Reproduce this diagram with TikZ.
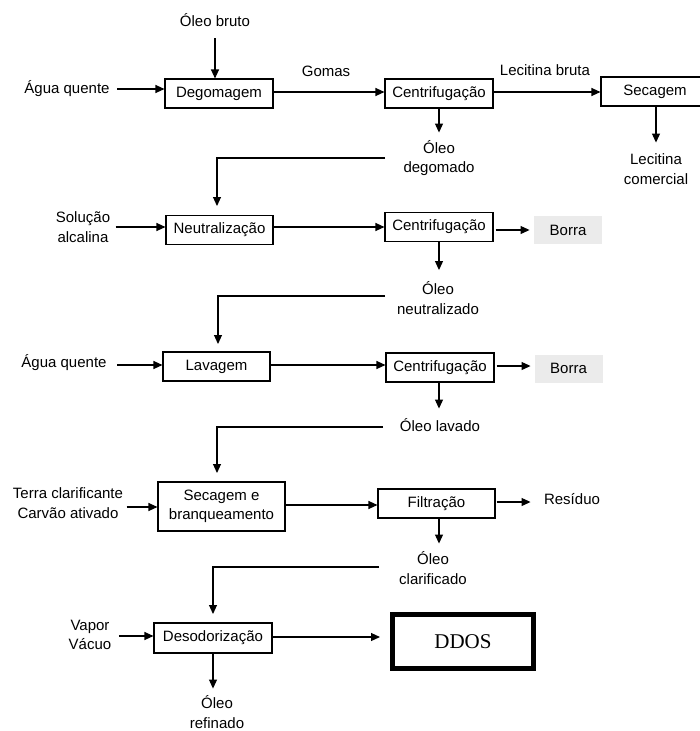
\documentclass[tikz,border=0pt]{standalone}
\usepackage{fontspec}
\setmainfont{Liberation Sans}
\usepackage{xcolor}
\usetikzlibrary{arrows.meta, positioning, calc}
\definecolor{borragray}{HTML}{EBEBEB}

\begin{document}
\begin{tikzpicture}[x=1pt, y=-1pt, line width=1.1pt,
    every node/.style={font=\fontsize{15}{19.5}\selectfont, inner sep=1pt},
    etapa/.style={draw, rectangle, minimum height=29pt, inner sep=2pt},
    saida/.style={fill=borragray, minimum width=68pt, minimum height=28pt},
    rotulo/.style={align=center},
    fluxo/.style={-{Triangle[length=9pt, width=8pt]}},
    retorno/.style={fluxo, shorten >=9pt}]
    \useasboundingbox (0,0) rectangle (700,731);

    % degomagem
    \node[rotulo] (oleobruto) at (215,20) {Óleo bruto};
    \node[etapa, minimum width=108pt] (degom) at (219,93.5) {Degomagem};
    \node[rotulo] (agua1) at (67,89) {Água quente};
    \node[etapa, minimum width=108pt] (centr1) at (439,93.5) {Centrifugação};
    \node[rotulo] (gomas) at (326,71) {Gomas};
    \node[rotulo] (lecbruta) at (545,70) {Lecitina bruta};
    \node[etapa, minimum width=108pt] (secag) at (655,91.5) {Secagem};
    \node[rotulo] (leccom) at (656,169) {Lecitina\\comercial};
    \node[rotulo] (oleodeg) at (439,158) {Óleo\\degomado};

    \draw[fluxo] (oleobruto.south) ++(0,10) -- (oleobruto |- degom.north);
    \draw[fluxo] (agua1.east) ++(6,0) -- (degom.west |- agua1);
    \draw[fluxo] ($(degom.east)+(0,-1.5)$) -- ($(centr1.west)+(0,-1.5)$);
    \draw[fluxo] ($(centr1.east)+(0,-1.5)$) -- (secag.west |- 0,92);
    \draw[fluxo] (secag.south -| leccom) -- ++(0,36);
    \draw[fluxo] (centr1.south) -- ++(0,24);

    % neutralizacao
    \node[etapa, minimum width=107pt] (neutr) at (219.5,230) {Neutralização};
    \node[rotulo] (solucao) at (83,227) {Solução\\alcalina};
    \node[etapa, minimum width=108pt] (centr2) at (439,227) {Centrifugação};
    \node[saida] (borra1) at (568,230) {Borra};
    \node[rotulo] (oleoneu) at (438,298) {Óleo\\neutralizado};

    \draw[retorno] (385,158) -| (217,215);
    \draw[fluxo] (solucao.east) ++(4,0) -- (neutr.west |- 0,227);
    \draw[fluxo] (neutr.east |- 0,227) -- (centr2.west);
    \draw[fluxo] (centr2.east |- 0,230) ++(2,0) -- ++(34,0);
    \draw[fluxo] (centr2.south) -- ++(0,28);

    % lavagem
    \node[etapa, minimum width=107pt] (lavag) at (216.5,366.5) {Lavagem};
    \node[rotulo] (agua2) at (64,363) {Água quente};
    \node[etapa, minimum width=108pt] (centr3) at (440,367.5) {Centrifugação};
    \node[saida] (borra2) at (568.5,368.5) {Borra};
    \node[rotulo] (oleolav) at (440,425) {Óleo lavado};

    \draw[retorno] (385,296) -| (218,353);
    \draw[fluxo] (agua2.east |- 0,365) ++(9,0) -- (lavag.west |- 0,365);
    \draw[fluxo] (lavag.east |- 0,365) -- (centr3.west |- 0,365);
    \draw[fluxo] (centr3.east |- 0,366) ++(2,0) -- ++(34,0);
    \draw[fluxo] (centr3.south -| 439,0) -- ++(0,26);

    % secagem e branqueamento
    \node[etapa, align=center, minimum width=127pt, minimum height=49pt,
        inner sep=1pt] (secbr) at (221.5,506.5) {Secagem e\\branqueamento};
    \node[rotulo] (terra) at (68,503) {Terra clarificante\\Carvão ativado};
    \node[etapa, minimum width=117pt] (filtr) at (436.5,503.5) {Filtração};
    \node[rotulo] (residuo) at (572,499) {Resíduo};
    \node[rotulo] (oleocla) at (433,568) {Óleo\\clarificado};

    \draw[retorno] (383,427) -| (217,482);
    \draw[fluxo] (terra.east |- 0,507) ++(2,0) -- (secbr.west |- 0,507);
    \draw[fluxo] (secbr.east |- 0,505) -- (filtr.west |- 0,505);
    \draw[fluxo] (filtr.east |- 0,502) ++(1,0) -- ++(34,0);
    \draw[fluxo] (filtr.south -| 439,0) -- ++(0,25);

    % desodorizacao
    \node[etapa, minimum width=118pt, minimum height=30pt] (desod) at (213,638) {Desodorização};
    \node[rotulo] (vapor) at (90,635) {Vapor\\Vácuo};
    \node[draw, line width=5pt, minimum width=141pt, minimum height=54pt,
        font=\fontsize{21}{25}\selectfont\setmainfont{Liberation Serif}]
        (ddos) at (463,641.5) {DDOS};
    \node[rotulo] (oleoref) at (217,712) {Óleo\\refinado};

    \draw[retorno] (379,567) -| (213,623);
    \draw[fluxo] (vapor.east |- 0,636) ++(6,0) -- (desod.west |- 0,636);
    \draw[fluxo] (desod.east |- 0,637) -- (380,637);
    \draw[fluxo] (desod.south) -- ++(0,35);
\end{tikzpicture}
\end{document}
